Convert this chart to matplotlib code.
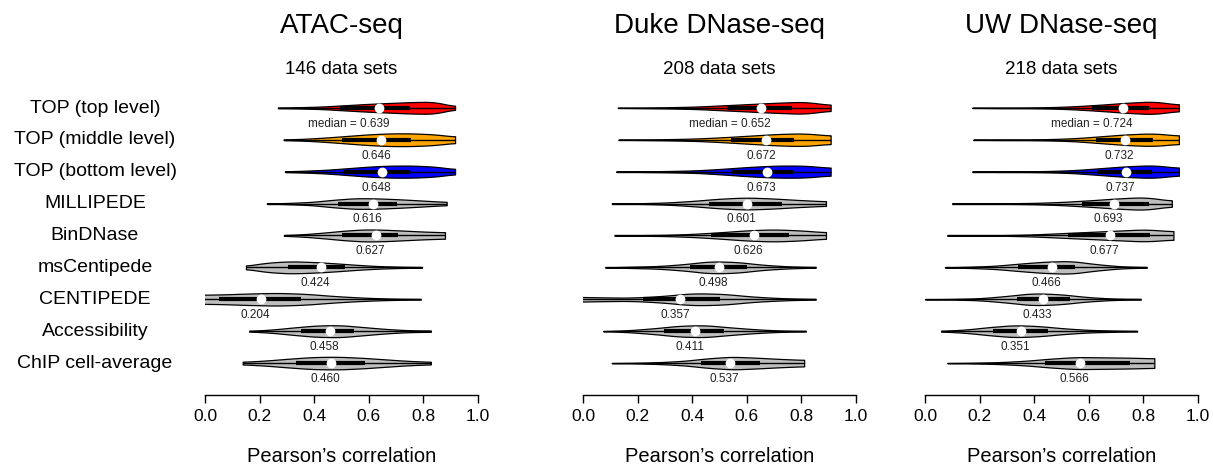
import numpy as np
import matplotlib
matplotlib.use("Agg")
import matplotlib.pyplot as plt

plt.rcParams['font.family'] = ['Liberation Sans', 'DejaVu Sans']

# Row labels (top to bottom)
methods = ['TOP (top level)', 'TOP (middle level)', 'TOP (bottom level)', 'MILLIPEDE',
           'BinDNase', 'msCentipede', 'CENTIPEDE', 'Accessibility', 'ChIP cell-average']
fill_colors = ['#FF0000', '#FFA500', '#0000FF'] + ['#BEBEBE'] * 6

titles = ['ATAC-seq', 'Duke DNase-seq', 'UW DNase-seq']
n_sets = [146, 208, 218]

# ---- ATAC-seq ----
atac_median = [0.639, 0.646, 0.648, 0.616, 0.627, 0.424, 0.204, 0.458, 0.460]
atac_min = [0.267, 0.288, 0.293, 0.226, 0.289, 0.150, -0.05, 0.162, 0.138]
atac_max = [0.916, 0.916, 0.916, 0.885, 0.879, 0.795, 0.790, 0.827, 0.827]
atac_q1 = [0.494, 0.500, 0.506, 0.488, 0.500, 0.304, 0.050, 0.352, 0.333]
atac_q3 = [0.751, 0.753, 0.750, 0.702, 0.707, 0.513, 0.350, 0.547, 0.586]
# half widths read at 9 evenly spaced points between min and max
atac_shape = [
    [0.01, 0.02, 0.04, 0.08, 0.12, 0.15, 0.18, 0.19, 0.05],
    [0.01, 0.03, 0.07, 0.12, 0.17, 0.20, 0.20, 0.17, 0.10],
    [0.01, 0.03, 0.06, 0.11, 0.16, 0.19, 0.19, 0.16, 0.08],
    [0.00, 0.02, 0.05, 0.12, 0.17, 0.16, 0.13, 0.09, 0.05],
    [0.01, 0.04, 0.09, 0.15, 0.19, 0.18, 0.15, 0.12, 0.10],
    [0.05, 0.15, 0.19, 0.17, 0.13, 0.08, 0.04, 0.02, 0.01],
    [0.14, 0.15, 0.18, 0.20, 0.17, 0.10, 0.05, 0.02, 0.01],
    [0.01, 0.05, 0.12, 0.18, 0.19, 0.13, 0.07, 0.03, 0.02],
    [0.04, 0.08, 0.14, 0.19, 0.20, 0.17, 0.12, 0.07, 0.04],
]

# ---- Duke DNase-seq ----
duke_median = [0.652, 0.672, 0.673, 0.601, 0.626, 0.498, 0.357, 0.411, 0.537]
duke_min = [0.127, 0.130, 0.121, 0.105, 0.115, 0.081, -0.05, 0.074, 0.105]
duke_max = [0.907, 0.907, 0.907, 0.890, 0.890, 0.852, 0.852, 0.816, 0.810]
duke_q1 = [0.526, 0.542, 0.545, 0.462, 0.469, 0.392, 0.220, 0.297, 0.431]
duke_q3 = [0.764, 0.773, 0.770, 0.728, 0.755, 0.601, 0.502, 0.517, 0.648]
duke_shape = [
    [0.00, 0.01, 0.02, 0.04, 0.08, 0.12, 0.16, 0.19, 0.09],
    [0.00, 0.01, 0.02, 0.04, 0.08, 0.13, 0.18, 0.20, 0.13],
    [0.00, 0.01, 0.02, 0.04, 0.09, 0.15, 0.19, 0.19, 0.12],
    [0.00, 0.01, 0.03, 0.08, 0.15, 0.19, 0.16, 0.11, 0.07],
    [0.00, 0.01, 0.02, 0.05, 0.10, 0.16, 0.19, 0.16, 0.10],
    [0.00, 0.02, 0.04, 0.10, 0.19, 0.17, 0.08, 0.03, 0.01],
    [0.08, 0.06, 0.05, 0.10, 0.19, 0.17, 0.08, 0.03, 0.01],
    [0.00, 0.03, 0.09, 0.17, 0.19, 0.12, 0.06, 0.02, 0.01],
    [0.00, 0.01, 0.03, 0.07, 0.15, 0.20, 0.17, 0.13, 0.10],
]

# ---- UW DNase-seq ----
uw_median = [0.724, 0.732, 0.737, 0.693, 0.677, 0.466, 0.433, 0.351, 0.566]
uw_min = [0.173, 0.177, 0.173, 0.100, 0.082, 0.073, 0.000, 0.059, 0.082]
uw_max = [0.930, 0.930, 0.930, 0.904, 0.910, 0.812, 0.790, 0.777, 0.840]
uw_q1 = [0.611, 0.625, 0.630, 0.574, 0.523, 0.342, 0.337, 0.250, 0.440]
uw_q3 = [0.820, 0.834, 0.830, 0.820, 0.824, 0.549, 0.531, 0.452, 0.751]
uw_shape = [
    [0.00, 0.01, 0.01, 0.02, 0.05, 0.10, 0.16, 0.20, 0.10],
    [0.00, 0.01, 0.01, 0.02, 0.05, 0.11, 0.17, 0.20, 0.13],
    [0.00, 0.01, 0.01, 0.02, 0.05, 0.11, 0.17, 0.20, 0.12],
    [0.00, 0.00, 0.01, 0.02, 0.05, 0.10, 0.16, 0.20, 0.09],
    [0.00, 0.00, 0.01, 0.03, 0.07, 0.11, 0.15, 0.19, 0.13],
    [0.00, 0.02, 0.05, 0.12, 0.18, 0.20, 0.10, 0.03, 0.01],
    [0.00, 0.01, 0.03, 0.10, 0.19, 0.16, 0.07, 0.02, 0.01],
    [0.01, 0.05, 0.13, 0.19, 0.16, 0.09, 0.04, 0.02, 0.01],
    [0.00, 0.01, 0.03, 0.07, 0.14, 0.19, 0.18, 0.17, 0.15],
]

panels = [
    (atac_median, atac_min, atac_max, atac_q1, atac_q3, atac_shape),
    (duke_median, duke_min, duke_max, duke_q1, duke_q3, duke_shape),
    (uw_median, uw_min, uw_max, uw_q1, uw_q3, uw_shape),
]

W, H = 1213, 468
fig = plt.figure(figsize=(W / 100, H / 100), dpi=100)

panel_left = [205, 583, 925]
ax_w, ax_bottom, ax_h = 273, 395, 351
n_rows = len(methods)


def draw_violin(ax, y, lo, hi, q1, q3, med, shape, color):
    knots = np.linspace(lo, hi, len(shape))
    xs = np.linspace(lo, hi, 300)
    w = np.interp(xs, knots, shape)
    # light smoothing so the outline is not polygonal
    k = 15
    padded = np.concatenate([np.full(k, w[0]), w, np.full(k, w[-1])])
    w = np.convolve(padded, np.ones(2 * k + 1) / (2 * k + 1), mode='same')[k:-k]
    ax.fill_between(xs, y - w, y + w, facecolor=color, edgecolor='black', linewidth=0.9)
    ax.plot([lo, hi], [y, y], color='black', linewidth=1.0, solid_capstyle='butt')
    ax.plot([q1, q3], [y, y], color='black', linewidth=3.0, solid_capstyle='butt')
    ax.plot([med], [y], 'o', color='white', markersize=6, markeredgecolor='white')


for p, (med, lo, hi, q1, q3, shape) in enumerate(panels):
    ax = fig.add_axes([panel_left[p] / W, (H - ax_bottom) / H, ax_w / W, ax_h / H])
    ax.set_xlim(0, 1)
    ax.set_ylim(0, 11)
    for i in range(n_rows):
        y = n_rows - i
        draw_violin(ax, y, lo[i], hi[i], q1[i], q3[i], med[i], shape[i], fill_colors[i])
        if i == 0:
            ax.text(med[i] + 0.035, y - 0.5, 'median = %.3f' % med[i], ha='right',
                    va='center', fontsize=8.5, color='#222222')
        else:
            ax.text(med[i] - 0.02, y - 0.5, '%.3f' % med[i], ha='center',
                    va='center', fontsize=8.5, color='#222222')

    for s in ['top', 'right', 'left']:
        ax.spines[s].set_visible(False)
    ax.spines['bottom'].set_bounds(0, 1)
    ax.spines['bottom'].set_linewidth(1.0)
    ax.set_yticks([])
    ax.set_xticks([0, 0.2, 0.4, 0.6, 0.8, 1.0])
    ax.set_xticklabels(['0.0', '0.2', '0.4', '0.6', '0.8', '1.0'])
    ax.tick_params(axis='x', length=5.8, width=1.0, pad=4, labelsize=12.5)
    ax.set_xlabel('Pearson\u2019s correlation', fontsize=14.5)
    ax.xaxis.set_label_coords(0.5, -62 / ax_h)
    ax.xaxis.label.set_va('center')
    ax.patch.set_visible(False)

    cx = (panel_left[p] + ax_w / 2) / W
    fig.text(cx, 1 - 26 / H, titles[p], ha='center', va='center', fontsize=20)
    fig.text(cx, 1 - 69 / H, '%d data sets' % n_sets[p], ha='center', va='center', fontsize=13.5)

# method labels on the left
for i, name in enumerate(methods):
    fig.text(95 / W, 1 - (108 + 32 * i) / H, name, ha='center', va='center', fontsize=14)

fig.savefig('out.png', dpi=100)
